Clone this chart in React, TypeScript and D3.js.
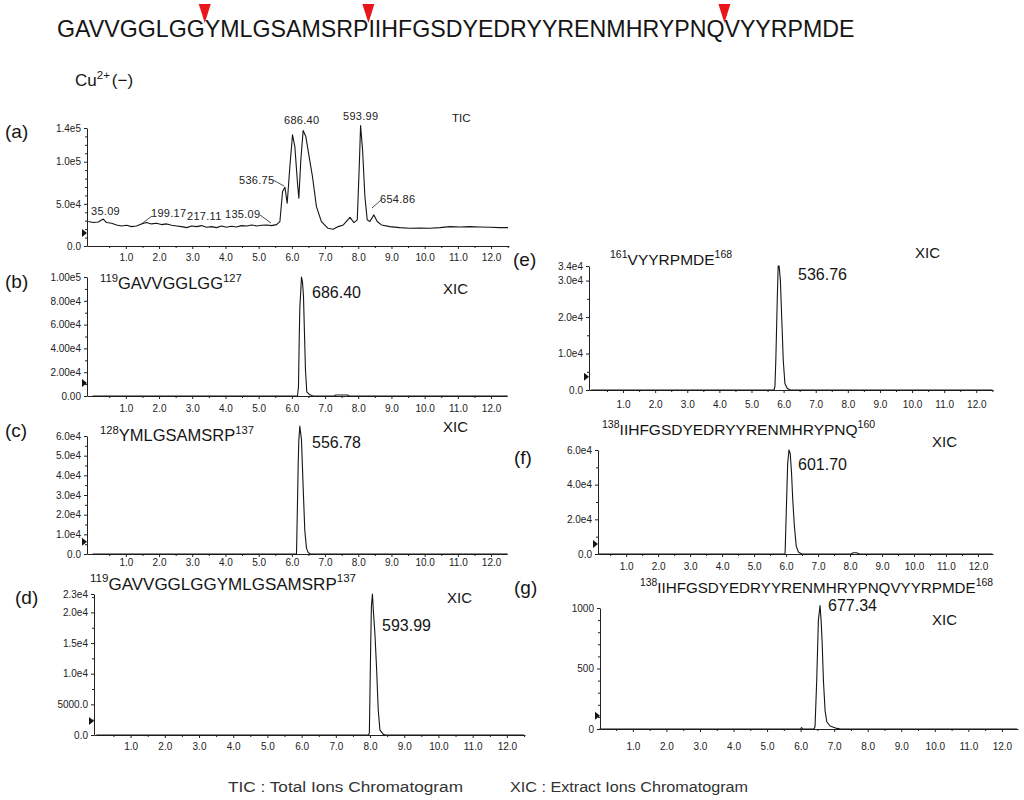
import React, { useEffect, useRef } from "react";
import * as d3 from "d3";

const FONT = "'Liberation Sans', Arial, Helvetica, sans-serif";

// peptide on top, red marks sit before these residue indexes
const sequence = "GAVVGGLGGYMLGSAMSRPIIHFGSDYEDRYYRENMHRYPNQVYYRPMDE";
const cleavageSites = [9, 19, 42];

// retention time ticks (min)
const timeTicks = [1, 2, 3, 4, 5, 6, 7, 8, 9, 10, 11, 12];

// (a) total ion chromatogram
const ticTime = [
  -0.13, 0.02, 0.17, 0.32, 0.42, 0.57, 0.72, 0.87, 1.02, 1.17, 1.32, 1.47, 1.62, 1.77,
  1.92, 2.07, 2.23, 2.38, 2.53, 2.68, 2.83, 2.98, 3.13, 3.28, 3.43, 3.58, 3.73, 3.88,
  4.03, 4.18, 4.33, 4.48, 4.64, 4.79, 4.94, 5.09, 5.24, 5.39, 5.54, 5.64, 5.72, 5.79,
  5.86, 5.94, 6.02, 6.09, 6.17, 6.21, 6.27, 6.34, 6.42, 6.52, 6.62, 6.74, 6.89, 7.09,
  7.24, 7.4, 7.55, 7.75, 7.87, 7.97, 8.03, 8.07, 8.13, 8.2, 8.27, 8.35, 8.47, 8.57,
  8.7, 8.95, 9.25, 9.55, 9.85, 10.15, 10.46, 10.76, 11.06, 11.36, 11.66, 11.96, 12.26, 12.51,
];
const ticIntensity = [
  29000, 27800, 28500, 32000, 27800, 27000, 25000, 23800, 24600, 23000, 23800, 26200, 27800, 26200,
  27000, 25400, 26200, 24600, 23800, 23000, 21800, 23800, 23000, 24200, 22200, 23000, 21800, 23800,
  22200, 23400, 22600, 24200, 23800, 25000, 23800, 24600, 25000, 24200, 25400, 29000, 64700, 69800,
  50800, 94400, 132000, 118000, 74600, 56700, 102000, 137000, 130000, 106000, 82500, 46800, 29000, 21000,
  19800, 23000, 25000, 34000, 27800, 31000, 94400, 143000, 114000, 58700, 31000, 29000, 36900, 29000,
  25000, 23000, 21800, 21000, 21400, 21000, 21800, 23000, 22600, 23000, 22600, 22200, 21800, 21800,
];

// (b) XIC 686.40
const xicTimeB = [0, 6.17, 6.2, 6.22, 6.24, 6.27, 6.29, 6.32, 6.35, 6.38, 6.41, 6.45, 6.54, 6.64, 7.28, 7.32, 7.68, 7.72, 12.5];
const xicIntB = [0, 0, 8000, 45000, 74000, 89000, 100000, 96000, 84000, 53000, 22000, 3400, 1000, 0, 0, 900, 900, 0, 0];

// (c) XIC 556.78
const xicTimeC = [0, 6.14, 6.17, 6.19, 6.21, 6.24, 6.29, 6.34, 6.39, 6.44, 6.49, 6.55, 12.5];
const xicIntC = [0, 0, 26000, 45000, 58000, 65000, 58000, 34000, 12000, 3000, 800, 0, 0];

// (d) XIC 593.99
const xicTimeD = [0, 7.95, 7.98, 8.02, 8.04, 8.07, 8.1, 8.14, 8.19, 8.24, 8.29, 8.39, 8.45, 12.5];
const xicIntD = [0, 0, 300, 15000, 21000, 23000, 20000, 16800, 11000, 4000, 800, 100, 0, 0];

// (e) XIC 536.76
const xicTimeE = [0, 5.7, 5.73, 5.76, 5.8, 5.83, 5.86, 5.9, 5.94, 5.99, 6.04, 6.11, 6.2, 12.5];
const xicIntE = [0, 0, 900, 9000, 24000, 34000, 34000, 30000, 20000, 8000, 1800, 500, 0, 0];

// (f) XIC 601.70
const xicTimeF = [0.12, 5.95, 5.97, 6.0, 6.05, 6.09, 6.13, 6.17, 6.21, 6.26, 6.32, 6.39, 6.5, 8.03, 8.1, 8.2, 8.3, 12.45];
const xicIntF = [0, 0, 600, 20000, 52000, 60000, 58000, 47000, 31000, 16000, 4400, 1000, 0, 0, 700, 700, 0, 0];

// (g) XIC 677.34
const xicTimeG = [0, 6.0, 6.03, 6.06, 6.4, 6.43, 6.48, 6.53, 6.58, 6.61, 6.64, 6.68, 6.73, 6.78, 6.88, 6.98, 7.08, 7.2, 12.45];
const xicIntG = [0, 0, 12, 0, 0, 20, 400, 900, 1020, 900, 730, 400, 150, 60, 25, 15, 5, 0, 0];

// y tick values and their printed labels
const yTicksA = [0, 50000, 100000, 140000];
const yLabelsA = ["0.0", "5.0e4", "1.0e5", "1.4e5"];
const yTicksB = [0, 20000, 40000, 60000, 80000, 100000];
const yLabelsB = ["0.00", "2.00e4", "4.00e4", "6.00e4", "8.00e4", "1.00e5"];
const yTicksC = [0, 10000, 20000, 30000, 40000, 50000, 60000];
const yLabelsC = ["0.0", "1.0e4", "2.0e4", "3.0e4", "4.0e4", "5.0e4", "6.0e4"];
const yTicksD = [0, 5000, 10000, 15000, 20000, 23000];
const yLabelsD = ["0.0", "5000.0", "1.0e4", "1.5e4", "2.0e4", "2.3e4"];
const yTicksE = [0, 10000, 20000, 30000, 34000];
const yLabelsE = ["0.0", "1.0e4", "2.0e4", "3.0e4", "3.4e4"];
const yTicksF = [0, 20000, 40000, 60000];
const yLabelsF = ["0.0", "2.0e4", "4.0e4", "6.0e4"];
const yTicksG = [0, 500, 1000];
const yLabelsG = ["0", "500", "1000"];

// TIC peak labels
const ticLabels = ["35.09", "199.17", "217.11", "135.09", "536.75", "686.40", "593.99", "654.86"];

const panels = [
  {
    letter: "(a)", time: ticTime, value: ticIntensity, yTicks: yTicksA, yLabels: yLabelsA, yMinor: 10000,
    yMax: 140000, xRange: [87, 509], tRange: [-0.17, 12.54], yRange: [246, 128], labelOffset: 15, marker: 15400,
    letterPos: [5, 138], tag: "TIC", tagPos: [452, 122], tagSize: 11.5,
    peptide: null, peak: null,
  },
  {
    letter: "(b)", time: xicTimeB, value: xicIntB, yTicks: yTicksB, yLabels: yLabelsB, yMinor: 10000,
    yMax: 100000, xRange: [87, 507], tRange: [-0.17, 12.48], yRange: [396, 277], labelOffset: 16, marker: 10900,
    letterPos: [5, 288], tag: "XIC", tagPos: [443, 294], tagSize: 15,
    peptide: { pos: [100, 289], start: "119", body: "GAVVGGLGG", end: "127", size: 16.5 },
    peak: { text: "686.40", pos: [312, 298] },
  },
  {
    letter: "(c)", time: xicTimeC, value: xicIntC, yTicks: yTicksC, yLabels: yLabelsC, yMinor: 5000,
    yMax: 60000, xRange: [87, 507], tRange: [-0.17, 12.48], yRange: [554, 436], labelOffset: 12, marker: 6200,
    letterPos: [5, 437], tag: "XIC", tagPos: [443, 432], tagSize: 15,
    peptide: { pos: [100, 441], start: "128", body: "YMLGSAMSRP", end: "137", size: 16.5 },
    peak: { text: "556.78", pos: [312, 448] },
  },
  {
    letter: "(d)", time: xicTimeD, value: xicIntD, yTicks: yTicksD, yLabels: yLabelsD, yMinor: 2500,
    yMax: 23000, xRange: [94, 525], tRange: [-0.07, 12.53], yRange: [735, 594], labelOffset: 15, marker: 2300,
    letterPos: [15, 604], tag: "XIC", tagPos: [447, 603], tagSize: 15,
    peptide: { pos: [90, 590], start: "119", body: "GAVVGGLGGYMLGSAMSRP", end: "137", size: 17 },
    peak: { text: "593.99", pos: [382, 631] },
  },
  {
    letter: "(e)", time: xicTimeE, value: xicIntE, yTicks: yTicksE, yLabels: yLabelsE, yMinor: 5000,
    yMax: 34000, xRange: [589, 993], tRange: [-0.06, 12.52], yRange: [390, 266], labelOffset: 18, marker: 3600,
    letterPos: [513, 266], tag: "XIC", tagPos: [915, 258], tagSize: 15,
    peptide: { pos: [610, 265], start: "161", body: "VYYRPMDE", end: "168", size: 15.5 },
    peak: { text: "536.76", pos: [798, 280] },
  },
  {
    letter: "(f)", time: xicTimeF, value: xicIntF, yTicks: yTicksF, yLabels: yLabelsF, yMinor: 10000,
    yMax: 60000, xRange: [598, 993], tRange: [0.12, 12.47], yRange: [554, 450], labelOffset: 16, marker: 5800,
    letterPos: [514, 464], tag: "XIC", tagPos: [932, 447], tagSize: 15,
    peptide: { pos: [602, 435], start: "138", body: "IIHFGSDYEDRYYRENMHRYPNQ", end: "160", size: 15.5 },
    peak: { text: "601.70", pos: [798, 470] },
  },
  {
    letter: "(g)", time: xicTimeG, value: xicIntG, yTicks: yTicksG, yLabels: yLabelsG, yMinor: 100,
    yMax: 1000, xRange: [600, 1018], tRange: [0.02, 12.48], yRange: [729, 608], labelOffset: 21, marker: 110,
    letterPos: [514, 594], tag: "XIC", tagPos: [932, 625], tagSize: 15,
    peptide: { pos: [640, 593], start: "138", body: "IIHFGSDYEDRYYRENMHRYPNQVYYRPMDE", end: "168", size: 15.2 },
    peak: { text: "677.34", pos: [828, 611] },
  },
];

// where the TIC labels go and their leader lines
const ticLabelPos = [[91, 215], [151, 217], [187, 220], [225, 218], [239, 184], [284, 124], [343, 120], [380, 203]];
const ticLeaders = [[[140, 225], [152, 216]], [[260, 215], [271, 223]], [[273, 180], [284, 186]], [[372, 208], [381, 200]]];

const App = () => {
  const ref = useRef<SVGSVGElement>(null);

  useEffect(() => {
    const svg = d3.select(ref.current);
    svg.selectAll("*").remove();
    const ink = "#151515";

    // sequence + cleavage marks
    const seq = svg
      .append("text")
      .attr("x", 57)
      .attr("y", 37)
      .attr("font-family", FONT)
      .attr("font-size", 23.2)
      .attr("fill", ink)
      .text(sequence);
    const seqNode = seq.node() as SVGTextElement;
    cleavageSites.forEach((i) => {
      const cx = 57 + seqNode.getSubStringLength(0, i);
      svg
        .append("path")
        .attr("d", `M${cx - 6},4 L${cx + 6},4 L${cx},23 Z`)
        .attr("fill", "#e8161b");
    });

    // Cu2+ (-)
    const cu = svg.append("text").attr("x", 75).attr("y", 86).attr("font-family", FONT).attr("font-size", 17).attr("fill", ink);
    cu.append("tspan").text("Cu");
    cu.append("tspan").attr("font-size", 11.5).attr("dy", -7).text("2+");
    cu.append("tspan").attr("dy", 7).attr("dx", 2).text("(−)");

    panels.forEach((p) => {
      const x = d3.scaleLinear().domain(p.tRange).range(p.xRange);
      const y = d3.scaleLinear().domain([0, p.yMax]).range(p.yRange);
      const g = svg.append("g");

      // x axis, labelled every minute with half-minute minor ticks
      const xAxis = g
        .append("g")
        .attr("transform", `translate(0,${p.yRange[0]})`)
        .call(
          d3
            .axisBottom(x)
            .tickValues(timeTicks)
            .tickFormat((d) => (+d).toFixed(1))
            .tickSize(3)
            .tickSizeOuter(0)
            .tickPadding(p.labelOffset - 3 - 7.1)
        );
      const minorX = d3.range(0.5, p.tRange[1], 1);
      g.append("g")
        .attr("transform", `translate(0,${p.yRange[0]})`)
        .call(d3.axisBottom(x).tickValues(minorX).tickFormat(() => "").tickSize(2))
        .call((s) => s.select(".domain").remove());

      // y axis
      const yAxis = g
        .append("g")
        .attr("transform", `translate(${p.xRange[0]},0)`)
        .call(
          d3
            .axisLeft(y)
            .tickValues(p.yTicks)
            .tickFormat((d, i) => p.yLabels[i])
            .tickSize(3)
            .tickSizeOuter(0)
            .tickPadding(3)
        );
      const minorY = d3.range(0, p.yMax, p.yMinor).filter((v) => !p.yTicks.includes(v));
      g.append("g")
        .attr("transform", `translate(${p.xRange[0]},0)`)
        .call(d3.axisLeft(y).tickValues(minorY).tickFormat(() => "").tickSize(2))
        .call((s) => s.select(".domain").remove());

      [xAxis, yAxis].forEach((a) => {
        a.selectAll("text").attr("font-family", FONT).attr("font-size", 10).attr("fill", "#222");
      });
      g.selectAll(".domain, .tick line").attr("stroke", "#222");

      // chromatogram trace
      const line = d3
        .line<[number, number]>()
        .x((d) => x(d[0]))
        .y((d) => y(d[1]));
      g.append("path")
        .datum(d3.zip(p.time, p.value) as [number, number][])
        .attr("d", line)
        .attr("fill", "none")
        .attr("stroke", ink)
        .attr("stroke-width", 1.1)
        .attr("stroke-linejoin", "round");

      // baseline marker on the y axis
      const my = y(p.marker);
      const ax = p.xRange[0];
      g.append("path").attr("d", `M${ax - 5},${my - 4} L${ax},${my} L${ax - 5},${my + 4} Z`).attr("fill", ink);

      // panel letter
      g.append("text")
        .attr("x", p.letterPos[0])
        .attr("y", p.letterPos[1])
        .attr("font-family", FONT)
        .attr("font-size", 19)
        .attr("fill", ink)
        .text(p.letter);

      g.append("text")
        .attr("x", p.tagPos[0])
        .attr("y", p.tagPos[1])
        .attr("font-family", FONT)
        .attr("font-size", p.tagSize)
        .attr("fill", ink)
        .text(p.tag);

      if (p.peptide) {
        const pp = p.peptide;
        const t = g
          .append("text")
          .attr("x", pp.pos[0])
          .attr("y", pp.pos[1])
          .attr("font-family", FONT)
          .attr("font-size", pp.size)
          .attr("fill", ink);
        const up = pp.size * 0.45;
        t.append("tspan").attr("font-size", pp.size * 0.68).attr("dy", -up).text(pp.start);
        t.append("tspan").attr("dy", up).text(pp.body);
        t.append("tspan").attr("font-size", pp.size * 0.68).attr("dy", -up).text(pp.end);
      }

      if (p.peak) {
        g.append("text")
          .attr("x", p.peak.pos[0])
          .attr("y", p.peak.pos[1])
          .attr("font-family", FONT)
          .attr("font-size", 16)
          .attr("fill", ink)
          .text(p.peak.text);
      }
    });

    // TIC annotations
    ticLabels.forEach((txt, i) => {
      svg
        .append("text")
        .attr("x", ticLabelPos[i][0])
        .attr("y", ticLabelPos[i][1])
        .attr("font-family", FONT)
        .attr("font-size", 11)
        .attr("letter-spacing", 0.3)
        .attr("fill", "#222")
        .text(txt);
    });
    ticLeaders.forEach((l) => {
      svg
        .append("line")
        .attr("x1", l[0][0])
        .attr("y1", l[0][1])
        .attr("x2", l[1][0])
        .attr("y2", l[1][1])
        .attr("stroke", "#222")
        .attr("stroke-width", 0.8);
    });

    // footnote
    svg
      .append("text")
      .attr("x", 228)
      .attr("y", 792)
      .attr("font-family", FONT)
      .attr("font-size", 15.5)
      .attr("fill", "#333")
      .attr("textLength", 235)
      .attr("lengthAdjust", "spacingAndGlyphs")
      .text("TIC : Total Ions Chromatogram");
    svg
      .append("text")
      .attr("x", 510)
      .attr("y", 792)
      .attr("font-family", FONT)
      .attr("font-size", 15.5)
      .attr("fill", "#333")
      .attr("textLength", 238)
      .attr("lengthAdjust", "spacingAndGlyphs")
      .text("XIC : Extract Ions Chromatogram");
  }, []);

  return (
    <svg
      ref={ref}
      width={1024}
      height={800}
      style={{ position: "absolute", left: 0, top: 0, background: "#fff" }}
    />
  );
};

export default App;
